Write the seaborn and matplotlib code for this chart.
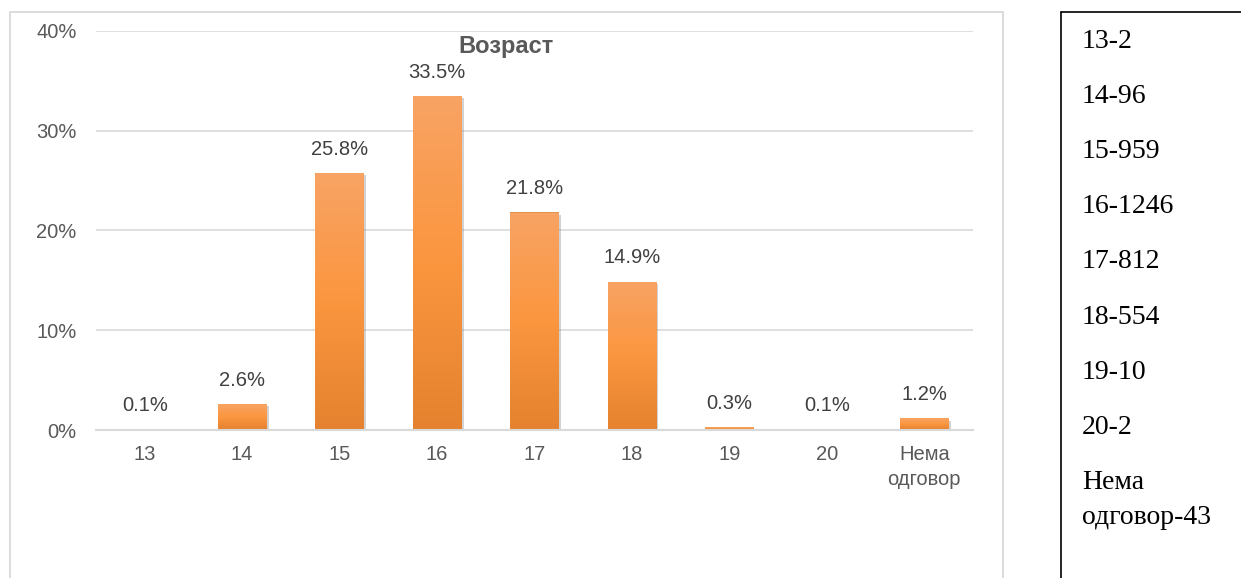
import numpy as np
import pandas as pd
import matplotlib
matplotlib.use("Agg")
import matplotlib.pyplot as plt
import seaborn as sns
from matplotlib.colors import LinearSegmentedColormap
from matplotlib.patches import Rectangle
from matplotlib.lines import Line2D
import matplotlib.patheffects as pe

# Podaci
categories = ["13", "14", "15", "16", "17", "18", "19", "20", "Нема\nодговор"]
counts = [2, 96, 959, 1246, 812, 554, 10, 2, 43]
share_labels = ["0.1%", "2.6%", "25.8%", "33.5%", "21.8%", "14.9%", "0.3%", "0.1%", "1.2%"]
yticks = [0, 10, 20, 30, 40]
ytick_labels = ["0%", "10%", "20%", "30%", "40%"]
title = "Возраст"

W, H = 1241, 578
GRID = "#D9D9D9"
TXT = "#595959"
LBL = "#404040"

sns.set_style("white")
plt.rcParams["font.family"] = ["Liberation Sans", "DejaVu Sans"]

shares = np.array(counts) / sum(counts) * 100
df = pd.DataFrame({"cat": categories, "share": shares})

fig = plt.figure(figsize=(W / 100, H / 100), dpi=100)
ax = fig.add_axes([96 / W, 148 / H, 877 / W, 399 / H])

sns.barplot(data=df, x="cat", y="share", color="#F4913C", width=0.5,
            ax=ax, zorder=3, linewidth=0)

# gradijent i senka na stubicima
cmap = LinearSegmentedColormap.from_list("bar", ["#E4822F", "#FB963F", "#F8A364"])
grad = np.linspace(0, 1, 256).reshape(-1, 1)
for p in ax.patches:
    p.set_path_effects([pe.SimplePatchShadow(offset=(1.5, -1.5), shadow_rgbFace="#7f7f7f", alpha=0.35),
                        pe.Normal()])
    x0, y0, w, h = p.get_x(), p.get_y(), p.get_width(), p.get_height()
    if h <= 0:
        continue
    im = ax.imshow(grad, extent=[x0, x0 + w, y0, y0 + h], origin="lower",
                   aspect="auto", cmap=cmap, zorder=3.5)
    im.set_clip_path(p)

# oznake vrednosti
for i, (v, s) in enumerate(zip(shares, share_labels)):
    ax.annotate(s, (i, v), xytext=(0, 17), textcoords="offset points",
                ha="center", va="center", fontsize=14.5, color=LBL)

ax.set_xlim(-0.5, len(categories) - 0.5)
ax.set_ylim(0, 40)
ax.set_yticks(yticks)
ax.set_yticklabels(ytick_labels)
ax.set_xticks(range(len(categories)))
ax.set_xticklabels(categories, linespacing=1.35)
ax.set_xticks(np.arange(-0.5, len(categories)), minor=True)
ax.tick_params(axis="x", which="major", length=0, pad=11, labelsize=14.5, labelcolor=TXT)
ax.tick_params(axis="x", which="minor", length=4, width=1.2, color=GRID, direction="out")
ax.tick_params(axis="y", length=0, pad=14, labelsize=14.5, labelcolor=TXT)
ax.set_xlabel("")
ax.set_ylabel("")
ax.yaxis.grid(True, color=GRID, linewidth=1.2, zorder=0)
ax.set_axisbelow(True)
for side in ["top", "right", "left"]:
    ax.spines[side].set_visible(False)
ax.spines["bottom"].set_color(GRID)
ax.spines["bottom"].set_linewidth(1.5)
ax.spines["bottom"].set_zorder(4)

fig.text(506 / W, 1 - 47 / H, title, ha="center", va="center",
         fontsize=17, fontweight="bold", color=TXT)

# okvir grafikona
fig.add_artist(Rectangle((10 / W, -0.05), 993 / W, 1.05 - 12 / H, transform=fig.transFigure,
                         fill=False, edgecolor=GRID, linewidth=1.3))

# tabela sa brojevima
xr = 1061 / W
yt = 1 - 12 / H
fig.add_artist(Line2D([xr, xr], [0, yt], color="black", linewidth=1.2, transform=fig.transFigure))
fig.add_artist(Line2D([xr, 1], [yt, yt], color="black", linewidth=1.2, transform=fig.transFigure))
for i, (c, n) in enumerate(zip(categories, counts)):
    ybase = 48 + 55.1 * i
    for j, line in enumerate(f"{c}-{n}".split("\n")):
        fig.text(1082 / W, 1 - (ybase + 35 * j) / H, line, ha="left", va="baseline",
                 fontsize=20, family="Liberation Serif", color="black")

fig.savefig("out.png", dpi=100)
